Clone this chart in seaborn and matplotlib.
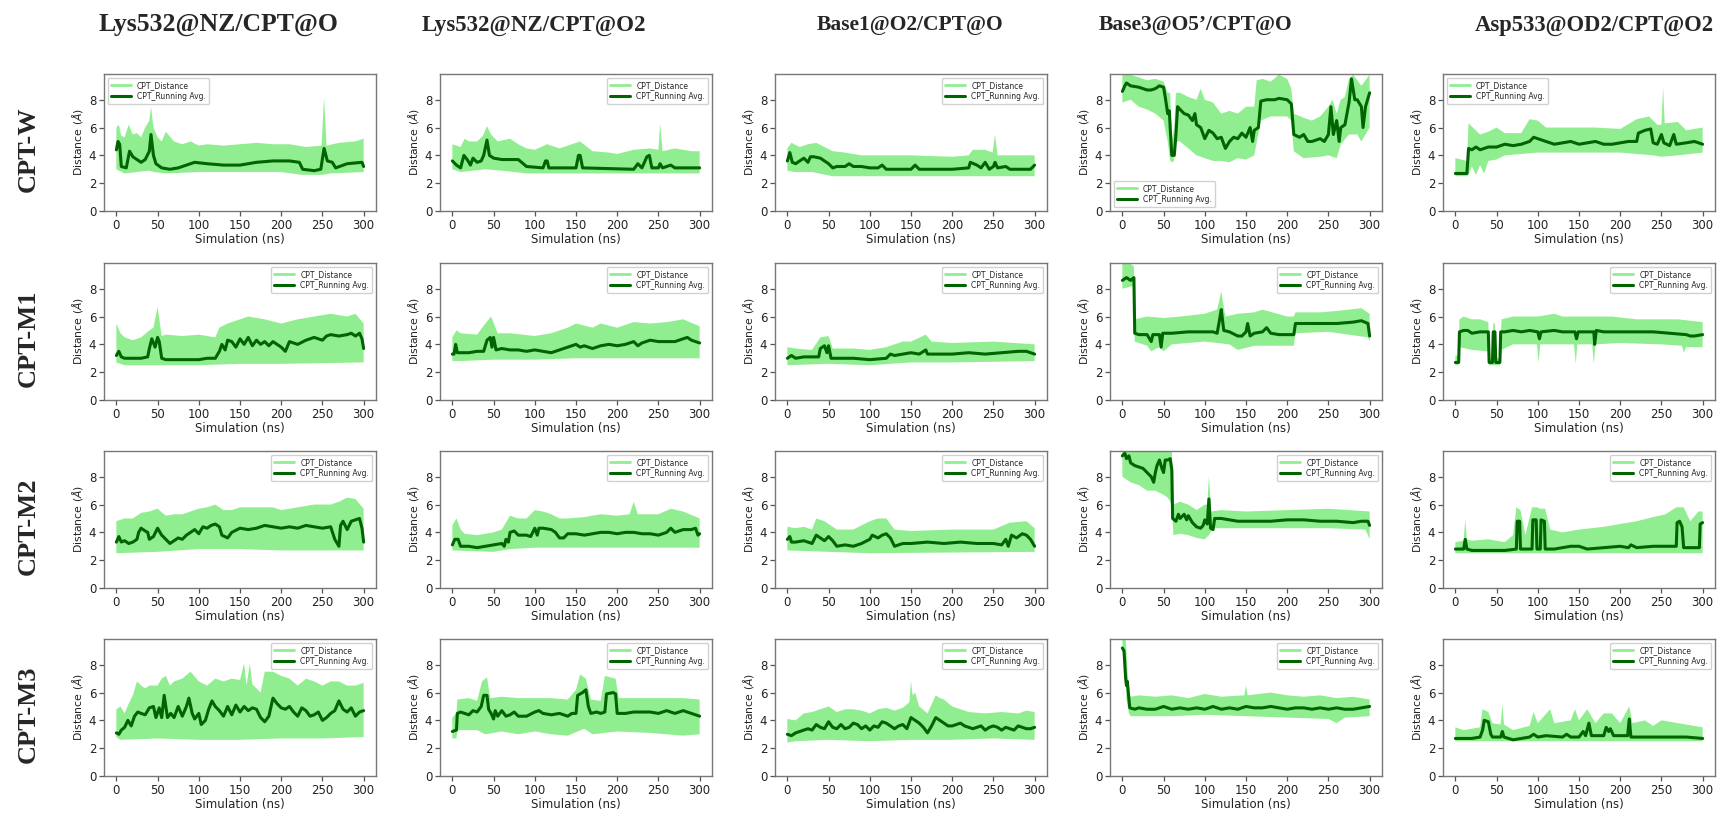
import numpy as np
import matplotlib
matplotlib.use("Agg")
import matplotlib.pyplot as plt
import seaborn as sns
from matplotlib.lines import Line2D

# --- Style ---
sns.set_style("white")
plt.rcParams["font.family"] = ["DejaVu Sans"]

# --- Data (distances in Angstrom, time in ns) ---
# each panel: running average (t, avg), upper edge of the raw distance (hi_t, hi)
# and lower edge of the raw distance (lo_t, lo)

# CPT-W
w_lys_o_t = [0, 2, 4, 6, 12, 16, 20, 25, 30, 35, 40, 42, 45, 48, 55, 65, 75, 85, 95, 110, 130, 150, 170, 190, 210, 222, 226, 240, 248, 252, 256, 262, 266, 280, 298, 300]
w_lys_o_avg = [4.4, 5.0, 4.8, 3.2, 3.1, 4.3, 3.9, 3.7, 3.5, 3.7, 4.3, 5.5, 4.0, 3.4, 3.1, 3.0, 3.1, 3.3, 3.5, 3.4, 3.3, 3.3, 3.5, 3.6, 3.6, 3.5, 3.0, 2.9, 3.0, 4.5, 3.6, 3.5, 3.1, 3.4, 3.5, 3.2]
w_lys_o_hi_t = [0, 3, 6, 10, 15, 20, 25, 30, 35, 40, 42, 45, 50, 55, 60, 70, 80, 90, 100, 110, 130, 150, 170, 190, 210, 230, 249, 252, 255, 270, 290, 300]
w_lys_o_hi = [6.0, 6.2, 5.4, 5.3, 6.2, 5.5, 5.6, 5.3, 6.0, 6.5, 7.5, 6.0, 5.3, 5.0, 5.7, 5.0, 4.8, 5.0, 4.7, 4.8, 4.7, 4.8, 4.9, 4.8, 4.8, 4.6, 4.7, 8.2, 4.7, 4.9, 5.0, 5.2]
w_lys_o_lo_t = [0, 10, 40, 45, 60, 100, 200, 225, 250, 260, 300]
w_lys_o_lo = [3.0, 2.7, 2.9, 2.8, 2.7, 2.8, 2.8, 2.6, 2.6, 2.7, 2.8]

w_lys_o2_t = [0, 5, 10, 14, 18, 22, 25, 30, 35, 38, 42, 45, 50, 60, 80, 90, 110, 113, 115, 117, 150, 153, 155, 158, 220, 225, 230, 236, 239, 242, 250, 252, 255, 265, 270, 300]
w_lys_o2_avg = [3.6, 3.3, 3.1, 4.0, 3.7, 3.3, 3.8, 3.5, 3.6, 4.0, 5.1, 4.0, 3.8, 3.7, 3.7, 3.2, 3.1, 3.6, 3.6, 3.1, 3.1, 4.0, 4.0, 3.1, 3.0, 3.4, 3.1, 3.9, 4.0, 3.1, 3.1, 3.4, 3.1, 3.3, 3.1, 3.1]
w_lys_o2_hi_t = [0, 10, 15, 20, 30, 37, 42, 47, 55, 70, 80, 90, 100, 115, 130, 155, 170, 190, 200, 220, 240, 250, 252, 255, 270, 290, 300]
w_lys_o2_hi = [4.8, 4.6, 5.2, 5.0, 5.0, 5.4, 6.1, 5.5, 5.0, 5.2, 4.8, 4.5, 4.4, 4.8, 4.5, 5.0, 4.3, 4.2, 4.1, 4.4, 4.5, 4.4, 6.3, 4.3, 4.5, 4.3, 4.3]
w_lys_o2_lo_t = [0, 10, 40, 60, 90, 300]
w_lys_o2_lo = [3.0, 2.8, 3.0, 2.9, 2.7, 2.7]

w_base1_t = [0, 3, 6, 10, 15, 20, 25, 28, 32, 40, 45, 50, 55, 60, 70, 75, 80, 90, 100, 110, 115, 120, 150, 155, 160, 200, 220, 222, 230, 235, 240, 245, 250, 252, 255, 265, 270, 295, 300]
w_base1_avg = [3.6, 4.2, 3.5, 3.4, 3.6, 3.8, 3.5, 3.9, 3.9, 3.8, 3.6, 3.4, 3.1, 3.2, 3.2, 3.4, 3.2, 3.2, 3.1, 3.1, 3.3, 3.0, 3.0, 3.3, 3.0, 3.0, 3.1, 3.5, 3.3, 3.1, 3.5, 3.0, 3.2, 3.5, 3.1, 3.2, 3.0, 3.0, 3.3]
w_base1_hi_t = [0, 5, 15, 25, 35, 45, 55, 70, 90, 110, 150, 200, 220, 225, 240, 249, 252, 255, 280, 300]
w_base1_hi = [4.5, 4.9, 4.6, 4.8, 4.9, 4.6, 4.3, 4.2, 4.0, 4.0, 4.0, 3.9, 4.0, 4.4, 4.4, 4.2, 5.5, 4.0, 4.0, 4.0]
w_base1_lo_t = [0, 10, 30, 55, 300]
w_base1_lo = [2.9, 2.8, 2.8, 2.5, 2.5]

w_base3_t = [0, 3, 5, 10, 20, 25, 30, 35, 40, 45, 50, 52, 55, 57, 58, 60, 63, 65, 67, 70, 75, 80, 85, 88, 90, 95, 100, 105, 110, 115, 120, 125, 130, 135, 140, 145, 150, 155, 158, 160, 165, 168, 175, 185, 190, 200, 205, 208, 215, 220, 225, 230, 240, 245, 250, 253, 256, 260, 263, 265, 270, 275, 278, 282, 285, 290, 292, 295, 300]
w_base3_avg = [8.6, 9.0, 9.2, 9.0, 8.9, 8.8, 8.7, 8.7, 8.8, 9.0, 8.9, 8.2, 7.0, 7.2, 6.0, 4.0, 4.0, 5.5, 7.5, 7.3, 7.0, 6.9, 6.5, 7.0, 6.2, 6.0, 5.2, 5.8, 5.6, 5.2, 5.3, 4.5, 5.0, 5.3, 5.2, 5.6, 5.3, 6.0, 5.0, 5.8, 6.0, 7.9, 8.0, 8.0, 8.1, 8.0, 7.7, 5.5, 5.3, 5.5, 5.0, 5.0, 5.2, 5.0, 5.5, 7.5, 5.5, 6.5, 5.0, 6.0, 6.2, 7.8, 9.5, 8.0, 8.0, 7.5, 6.0, 7.5, 8.5]
w_base3_hi_t = [0, 10, 20, 30, 40, 50, 55, 58, 60, 63, 65, 70, 80, 90, 95, 100, 110, 120, 130, 140, 150, 160, 163, 170, 180, 190, 200, 205, 208, 220, 230, 240, 250, 255, 260, 265, 270, 275, 280, 290, 300]
w_base3_hi = [9.8, 9.8, 9.6, 9.4, 9.5, 9.3, 8.5, 8.5, 5.0, 6.0, 8.5, 8.5, 8.2, 8.0, 8.8, 8.0, 7.8, 7.0, 7.2, 7.0, 7.5, 7.5, 9.4, 9.5, 9.3, 9.8, 9.5, 8.8, 7.0, 6.7, 6.5, 6.8, 7.5, 8.0, 7.0, 8.0, 8.2, 9.5, 9.8, 9.0, 9.8]
w_base3_lo_t = [0, 10, 20, 30, 40, 50, 55, 58, 62, 65, 70, 80, 90, 100, 110, 120, 130, 140, 150, 160, 168, 180, 200, 205, 208, 215, 220, 240, 250, 260, 265, 275, 285, 290, 300]
w_base3_lo = [7.8, 8.0, 7.5, 7.3, 7.0, 6.5, 5.0, 3.6, 3.5, 5.0, 5.0, 4.5, 4.0, 3.8, 3.6, 3.6, 3.5, 3.8, 3.7, 4.0, 6.5, 6.8, 6.8, 6.5, 4.3, 4.0, 3.8, 3.9, 4.0, 3.8, 4.8, 5.5, 5.5, 5.0, 6.0]

w_asp_t = [0, 14, 16, 20, 25, 30, 40, 50, 60, 70, 80, 90, 95, 100, 110, 120, 130, 140, 150, 160, 170, 180, 190, 200, 210, 220, 222, 230, 237, 240, 245, 250, 253, 260, 265, 268, 280, 290, 300]
w_asp_avg = [2.7, 2.7, 4.5, 4.4, 4.6, 4.4, 4.6, 4.6, 4.8, 4.7, 4.8, 5.0, 5.3, 5.2, 5.0, 4.8, 4.9, 5.0, 4.8, 4.9, 5.0, 4.8, 4.8, 4.9, 5.0, 5.0, 5.6, 5.8, 5.9, 4.9, 4.8, 5.5, 4.9, 4.7, 5.5, 4.8, 4.9, 5.0, 4.8]
w_asp_hi_t = [0, 14, 16, 30, 40, 50, 60, 80, 90, 100, 110, 130, 150, 170, 200, 220, 235, 245, 250, 252, 254, 270, 280, 290, 300]
w_asp_hi = [3.8, 3.6, 6.3, 5.5, 5.7, 6.0, 5.6, 5.6, 6.6, 6.5, 6.0, 6.0, 6.0, 6.0, 5.9, 6.6, 6.8, 6.2, 6.2, 8.9, 6.3, 6.4, 5.8, 5.9, 6.0]
w_asp_lo_t = [0, 14, 16, 20, 25, 30, 35, 40, 50, 60, 80, 100, 150, 200, 240, 250, 270, 300]
w_asp_lo = [2.5, 2.5, 2.6, 3.2, 2.6, 3.3, 2.7, 3.6, 3.7, 4.0, 4.1, 4.2, 4.2, 4.2, 4.0, 3.9, 4.0, 4.2]

# CPT-M1
m1_lys_o_t = [0, 3, 6, 10, 20, 30, 38, 40, 43, 47, 50, 52, 55, 60, 80, 100, 110, 120, 125, 128, 132, 135, 140, 145, 150, 155, 160, 165, 170, 175, 180, 185, 190, 200, 205, 210, 220, 230, 240, 250, 255, 260, 270, 280, 285, 290, 295, 298, 300]
m1_lys_o_avg = [3.2, 3.5, 3.1, 3.0, 3.0, 3.0, 3.1, 3.7, 4.4, 3.8, 4.5, 4.2, 3.0, 2.9, 2.9, 2.9, 3.0, 3.0, 3.5, 4.0, 3.6, 4.3, 4.2, 3.8, 4.4, 4.0, 4.5, 3.9, 4.3, 4.0, 4.2, 3.9, 4.2, 3.8, 3.5, 4.2, 4.0, 4.3, 4.5, 4.3, 4.6, 4.7, 4.6, 4.7, 4.8, 4.6, 4.8, 4.4, 3.7]
m1_lys_o_hi_t = [0, 5, 10, 20, 30, 40, 45, 50, 55, 60, 80, 100, 120, 125, 135, 150, 160, 180, 200, 220, 240, 260, 280, 290, 300]
m1_lys_o_hi = [5.5, 4.8, 4.5, 4.3, 4.5, 5.0, 5.2, 6.7, 4.6, 4.7, 4.6, 4.7, 4.5, 5.2, 5.5, 5.8, 6.0, 5.8, 5.5, 5.8, 6.0, 6.2, 6.0, 6.2, 5.5]
m1_lys_o_lo_t = [0, 10, 100, 150, 200, 300]
m1_lys_o_lo = [2.7, 2.5, 2.5, 2.6, 2.6, 2.7]

m1_lys_o2_t = [0, 2, 4, 6, 10, 20, 30, 38, 42, 46, 48, 50, 53, 60, 70, 80, 90, 100, 110, 120, 125, 130, 140, 150, 155, 160, 170, 180, 190, 200, 210, 220, 225, 230, 240, 250, 260, 270, 280, 285, 290, 295, 300]
m1_lys_o2_avg = [3.3, 3.3, 4.0, 3.4, 3.4, 3.4, 3.5, 3.5, 4.3, 4.5, 3.8, 4.5, 3.6, 3.7, 3.6, 3.6, 3.5, 3.6, 3.5, 3.4, 3.5, 3.6, 3.8, 4.0, 3.8, 3.9, 3.7, 3.9, 4.0, 3.9, 4.0, 4.2, 3.9, 4.1, 4.3, 4.2, 4.2, 4.2, 4.4, 4.5, 4.3, 4.2, 4.1]
m1_lys_o2_hi_t = [0, 5, 10, 30, 40, 47, 55, 70, 100, 120, 140, 150, 170, 180, 200, 220, 240, 260, 280, 300]
m1_lys_o2_hi = [4.5, 5.0, 4.8, 4.7, 5.5, 6.0, 4.8, 4.8, 4.6, 4.8, 5.2, 5.5, 5.2, 5.5, 5.2, 5.6, 5.5, 5.6, 5.8, 5.3]
m1_lys_o2_lo_t = [0, 10, 50, 100, 150, 300]
m1_lys_o2_lo = [2.8, 2.8, 2.9, 2.9, 3.0, 3.0]

m1_base1_t = [0, 5, 10, 20, 30, 38, 40, 45, 48, 50, 53, 60, 80, 100, 120, 125, 130, 140, 150, 160, 168, 170, 180, 200, 220, 240, 260, 280, 290, 300]
m1_base1_avg = [3.0, 3.2, 3.0, 3.1, 3.1, 3.1, 3.7, 3.9, 3.4, 3.9, 3.0, 3.0, 3.0, 2.9, 3.0, 3.3, 3.2, 3.3, 3.4, 3.3, 3.6, 3.3, 3.3, 3.3, 3.4, 3.3, 3.4, 3.5, 3.5, 3.3]
m1_base1_hi_t = [0, 10, 30, 40, 50, 55, 80, 100, 120, 140, 150, 168, 175, 200, 250, 300]
m1_base1_hi = [3.8, 3.7, 3.6, 4.5, 4.6, 3.7, 3.7, 3.6, 3.8, 4.2, 4.2, 4.7, 4.2, 4.1, 4.2, 4.0]
m1_base1_lo_t = [0, 50, 100, 150, 200, 300]
m1_base1_lo = [2.5, 2.6, 2.5, 2.7, 2.7, 2.8]

m1_base3_t = [0, 5, 10, 14, 15, 20, 30, 35, 37, 45, 47, 49, 60, 80, 100, 110, 115, 118, 120, 123, 130, 140, 145, 150, 152, 155, 160, 170, 175, 180, 190, 200, 208, 210, 220, 240, 260, 280, 290, 298, 300]
m1_base3_avg = [8.6, 8.8, 8.6, 8.8, 4.8, 4.7, 4.7, 4.2, 4.7, 4.7, 3.8, 4.8, 4.8, 4.9, 4.9, 4.9, 4.8, 5.8, 6.5, 5.0, 4.9, 4.6, 4.6, 4.9, 5.5, 4.6, 4.8, 4.9, 5.2, 4.8, 4.7, 4.7, 4.7, 5.5, 5.5, 5.5, 5.5, 5.6, 5.7, 5.5, 4.6]
m1_base3_hi_t = [0, 10, 14, 15, 30, 50, 70, 100, 115, 120, 125, 140, 160, 170, 200, 208, 210, 240, 260, 290, 300]
m1_base3_hi = [9.8, 9.8, 9.6, 5.8, 6.0, 5.9, 6.0, 6.2, 6.5, 7.8, 6.0, 6.2, 6.3, 6.5, 6.0, 6.0, 6.3, 6.3, 6.4, 6.6, 6.2]
m1_base3_lo_t = [0, 13, 15, 30, 35, 45, 50, 60, 100, 130, 140, 160, 200, 208, 210, 250, 298, 300]
m1_base3_lo = [8.0, 8.2, 4.2, 3.9, 3.5, 3.8, 3.5, 4.0, 4.2, 4.0, 3.6, 3.9, 3.9, 3.9, 4.8, 4.9, 4.5, 4.2]

m1_asp_t = [0, 4, 5, 10, 15, 20, 30, 40, 41, 45, 46, 48, 49, 54, 55, 60, 70, 80, 90, 100, 102, 104, 120, 130, 145, 147, 149, 160, 168, 169, 171, 180, 200, 220, 240, 260, 280, 285, 290, 300]
m1_asp_avg = [2.7, 2.7, 4.9, 5.0, 5.0, 4.8, 4.9, 4.9, 2.7, 2.7, 4.9, 4.9, 2.7, 2.7, 4.9, 4.9, 5.0, 4.9, 5.0, 4.9, 4.4, 4.9, 5.0, 4.9, 4.9, 4.4, 4.9, 4.9, 4.9, 4.0, 5.0, 4.9, 4.9, 4.9, 4.9, 4.8, 4.7, 4.6, 4.6, 4.7]
m1_asp_hi_t = [0, 4, 5, 10, 20, 30, 40, 41, 45, 46, 48, 49, 54, 56, 70, 100, 120, 130, 160, 190, 220, 250, 270, 300]
m1_asp_hi = [3.2, 3.2, 5.8, 6.0, 5.8, 5.8, 5.6, 3.0, 3.0, 5.5, 5.5, 3.0, 3.0, 5.8, 6.0, 6.0, 6.2, 6.0, 6.0, 6.0, 5.8, 5.8, 5.8, 5.6]
m1_asp_lo_t = [0, 4, 5, 20, 40, 41, 54, 56, 70, 99, 101, 103, 144, 146, 148, 166, 168, 170, 200, 250, 275, 277, 280, 300]
m1_asp_lo = [2.5, 2.5, 3.8, 3.6, 3.5, 2.5, 2.5, 3.6, 4.0, 4.0, 2.7, 4.0, 4.0, 2.6, 4.0, 4.0, 2.6, 4.0, 4.1, 4.0, 3.9, 3.4, 3.8, 3.8]

# CPT-M2
m2_lys_o_t = [0, 3, 6, 10, 15, 20, 25, 27, 30, 35, 38, 40, 45, 50, 55, 60, 65, 70, 75, 80, 85, 90, 95, 100, 105, 110, 115, 120, 125, 128, 135, 140, 150, 160, 170, 180, 190, 200, 210, 220, 230, 240, 250, 260, 265, 270, 272, 275, 280, 285, 290, 295, 298, 300]
m2_lys_o_avg = [3.3, 3.7, 3.3, 3.4, 3.2, 3.3, 3.5, 4.0, 4.3, 4.1, 4.0, 3.5, 3.7, 4.3, 3.8, 3.5, 3.2, 3.4, 3.6, 3.5, 3.8, 4.0, 4.2, 3.9, 4.4, 4.3, 4.5, 4.6, 4.4, 3.8, 3.6, 4.0, 4.3, 4.2, 4.3, 4.5, 4.4, 4.3, 4.4, 4.3, 4.5, 4.4, 4.3, 4.4, 3.5, 3.0, 4.5, 4.8, 4.2, 4.8, 4.9, 5.0, 4.3, 3.3]
m2_lys_o_hi_t = [0, 10, 20, 30, 40, 50, 60, 70, 80, 90, 100, 110, 120, 130, 140, 150, 170, 190, 200, 220, 240, 260, 270, 280, 290, 300]
m2_lys_o_hi = [4.8, 5.0, 5.0, 5.4, 5.5, 5.7, 5.2, 5.3, 5.3, 5.5, 5.7, 5.8, 6.0, 5.6, 5.6, 5.8, 5.8, 5.8, 5.6, 5.8, 6.0, 6.0, 6.2, 6.5, 6.4, 5.7]
m2_lys_o_lo_t = [0, 50, 100, 150, 200, 250, 300]
m2_lys_o_lo = [2.5, 2.6, 2.8, 2.8, 2.7, 2.7, 2.7]

m2_lys_o2_t = [0, 3, 7, 10, 20, 30, 40, 50, 60, 63, 65, 68, 70, 75, 80, 90, 95, 100, 103, 105, 110, 120, 125, 130, 135, 140, 150, 160, 170, 180, 190, 200, 210, 220, 230, 240, 250, 260, 265, 270, 280, 290, 295, 298, 300]
m2_lys_o2_avg = [3.1, 3.5, 3.5, 3.0, 3.0, 2.9, 3.0, 3.1, 3.2, 3.0, 3.5, 3.3, 4.0, 4.1, 3.8, 3.8, 3.7, 4.3, 3.8, 4.3, 4.3, 4.2, 4.0, 3.6, 3.6, 3.9, 3.9, 3.8, 3.9, 4.0, 4.0, 3.9, 4.0, 4.0, 3.9, 3.9, 3.8, 4.0, 4.3, 4.0, 4.2, 4.2, 4.3, 3.8, 3.9]
m2_lys_o2_hi_t = [0, 5, 10, 15, 30, 50, 60, 70, 80, 90, 100, 110, 120, 130, 140, 160, 180, 200, 215, 220, 225, 250, 265, 280, 300]
m2_lys_o2_hi = [4.5, 5.0, 4.2, 3.9, 3.8, 4.0, 4.2, 5.2, 5.0, 5.0, 5.6, 5.5, 5.3, 5.0, 5.0, 5.1, 5.3, 5.2, 5.3, 6.2, 5.3, 5.3, 5.7, 5.5, 5.0]
m2_lys_o2_lo_t = [0, 50, 70, 100, 300]
m2_lys_o2_lo = [2.7, 2.6, 2.8, 2.9, 2.9]

m2_base1_t = [0, 3, 5, 10, 20, 30, 35, 40, 45, 50, 55, 60, 70, 80, 90, 100, 103, 110, 115, 120, 125, 130, 140, 150, 170, 190, 210, 230, 250, 260, 265, 268, 272, 278, 285, 290, 295, 300]
m2_base1_avg = [3.5, 3.7, 3.3, 3.3, 3.4, 3.2, 3.8, 3.6, 3.4, 3.7, 3.4, 3.0, 3.1, 3.0, 3.2, 3.5, 3.8, 3.6, 3.8, 3.9, 3.6, 3.0, 3.2, 3.2, 3.3, 3.2, 3.3, 3.2, 3.2, 3.1, 3.5, 3.0, 3.8, 3.6, 3.9, 3.8, 3.5, 3.0]
m2_base1_hi_t = [0, 10, 20, 30, 35, 45, 60, 80, 100, 110, 120, 130, 150, 200, 250, 270, 290, 300]
m2_base1_hi = [4.4, 4.3, 4.4, 4.2, 5.0, 4.8, 4.2, 4.2, 4.8, 5.0, 5.0, 4.2, 4.1, 4.2, 4.2, 4.7, 4.8, 4.3]
m2_base1_lo_t = [0, 50, 100, 300]
m2_base1_lo = [2.7, 2.6, 2.5, 2.6]

m2_base3_t = [0, 3, 5, 8, 10, 15, 20, 25, 30, 35, 38, 40, 42, 45, 48, 50, 52, 55, 58, 60, 61, 65, 68, 70, 75, 78, 80, 85, 90, 95, 98, 100, 103, 105, 107, 110, 112, 120, 140, 160, 180, 200, 220, 240, 260, 280, 290, 298, 300]
m2_base3_avg = [9.5, 9.7, 9.3, 9.5, 9.0, 8.8, 8.7, 8.6, 8.3, 8.0, 7.6, 8.3, 8.8, 9.2, 8.6, 8.3, 9.2, 9.2, 9.3, 8.5, 5.0, 4.8, 5.3, 5.0, 5.3, 4.9, 5.2, 4.7, 4.4, 4.3, 4.5, 4.9, 4.6, 6.4, 4.3, 4.2, 5.0, 5.0, 4.8, 4.8, 4.8, 4.9, 4.9, 4.8, 4.8, 4.7, 4.8, 4.8, 4.5]
m2_base3_hi_t = [0, 60, 62, 70, 80, 90, 100, 103, 105, 108, 120, 150, 200, 250, 300]
m2_base3_hi = [9.9, 9.9, 6.0, 6.2, 6.0, 5.6, 6.0, 6.0, 8.0, 5.5, 5.6, 5.5, 5.6, 5.7, 5.5]
m2_base3_lo_t = [0, 10, 20, 30, 40, 50, 55, 60, 62, 70, 80, 90, 100, 105, 110, 150, 200, 250, 295, 300]
m2_base3_lo = [8.0, 7.6, 7.4, 7.0, 7.0, 6.7, 6.5, 6.0, 3.8, 3.9, 3.8, 3.6, 3.5, 3.8, 4.3, 4.3, 4.3, 4.3, 4.2, 3.5]

m2_asp_t = [0, 10, 12, 14, 20, 40, 60, 74, 75, 78, 79, 93, 94, 98, 99, 103, 104, 108, 109, 120, 140, 150, 160, 180, 200, 210, 213, 220, 240, 260, 268, 269, 272, 275, 277, 296, 297, 300]
m2_asp_avg = [2.8, 2.8, 3.5, 2.8, 2.7, 2.7, 2.7, 2.8, 4.8, 4.8, 2.8, 2.8, 4.9, 4.9, 2.8, 2.8, 4.9, 4.8, 2.8, 2.8, 3.0, 3.0, 2.8, 2.9, 3.0, 2.9, 3.1, 2.9, 3.0, 3.0, 3.0, 4.7, 4.8, 4.4, 2.9, 2.9, 4.6, 4.7]
m2_asp_hi_t = [0, 10, 12, 14, 20, 40, 60, 70, 74, 79, 85, 93, 99, 103, 109, 115, 130, 150, 180, 200, 220, 240, 255, 268, 277, 285, 295, 300]
m2_asp_hi = [3.3, 3.4, 4.9, 3.5, 3.4, 3.5, 3.3, 3.8, 5.8, 5.6, 3.8, 5.8, 5.8, 5.7, 5.7, 4.2, 4.0, 4.2, 4.4, 4.6, 4.8, 5.1, 5.3, 5.8, 5.8, 4.8, 5.5, 5.5]
m2_asp_lo_t = [0, 150, 300]
m2_asp_lo = [2.5, 2.5, 2.5]

# CPT-M3
m3_lys_o_t = [0, 3, 6, 10, 14, 18, 22, 26, 30, 35, 40, 45, 48, 52, 55, 58, 62, 66, 70, 75, 80, 85, 88, 92, 95, 100, 103, 108, 112, 116, 120, 125, 130, 135, 140, 145, 150, 155, 160, 165, 170, 175, 180, 185, 190, 195, 200, 205, 210, 215, 220, 225, 230, 235, 240, 245, 250, 255, 260, 265, 270, 275, 280, 285, 290, 295, 300]
m3_lys_o_avg = [3.1, 3.0, 3.3, 3.5, 4.0, 3.6, 4.3, 4.6, 4.5, 4.4, 4.9, 5.0, 4.2, 4.9, 4.2, 5.8, 4.2, 4.5, 4.2, 5.0, 4.3, 5.0, 5.6, 4.5, 4.1, 4.5, 3.7, 4.0, 4.8, 5.4, 5.0, 4.7, 4.3, 5.0, 4.4, 5.1, 4.6, 5.0, 4.7, 4.9, 4.8, 4.2, 3.9, 4.3, 5.6, 5.2, 4.9, 4.8, 5.0, 4.6, 4.3, 4.9, 4.7, 4.3, 4.4, 4.6, 4.0, 4.2, 4.5, 4.7, 5.4, 4.8, 4.6, 4.9, 4.3, 4.6, 4.7]
m3_lys_o_hi_t = [0, 5, 10, 15, 20, 25, 30, 35, 40, 50, 55, 60, 65, 70, 80, 90, 100, 110, 120, 130, 140, 150, 155, 158, 162, 165, 175, 180, 190, 200, 210, 220, 230, 240, 250, 260, 270, 280, 290, 300]
m3_lys_o_hi = [4.8, 5.0, 4.5, 5.2, 5.8, 6.8, 6.5, 6.3, 6.5, 6.5, 7.0, 7.2, 6.5, 6.8, 7.0, 7.5, 6.8, 6.5, 7.0, 6.8, 7.0, 6.9, 8.1, 6.5, 8.1, 6.6, 6.0, 7.5, 7.5, 7.2, 7.0, 6.5, 7.0, 6.8, 6.5, 6.8, 6.8, 6.5, 6.5, 6.7]
m3_lys_o_lo_t = [0, 5, 50, 100, 150, 200, 250, 300]
m3_lys_o_lo = [2.8, 2.6, 2.7, 2.6, 2.6, 2.7, 2.7, 2.8]

m3_lys_o2_t = [0, 5, 6, 10, 15, 20, 25, 30, 35, 38, 42, 44, 47, 50, 52, 55, 60, 65, 70, 75, 80, 90, 100, 105, 110, 120, 130, 140, 145, 150, 152, 158, 162, 165, 168, 175, 180, 185, 187, 195, 198, 200, 210, 220, 230, 240, 250, 260, 270, 275, 280, 290, 295, 300]
m3_lys_o2_avg = [3.2, 3.3, 4.5, 4.6, 4.5, 4.4, 4.7, 4.6, 5.0, 5.8, 5.8, 4.8, 4.5, 4.1, 4.7, 4.3, 4.7, 4.3, 4.4, 4.6, 4.3, 4.3, 4.6, 4.7, 4.5, 4.4, 4.5, 4.3, 4.5, 4.5, 5.8, 6.0, 6.2, 5.0, 4.5, 4.6, 4.5, 4.6, 5.9, 6.0, 5.9, 4.5, 4.5, 4.6, 4.6, 4.6, 4.5, 4.7, 4.5, 4.6, 4.7, 4.5, 4.4, 4.3]
m3_lys_o2_hi_t = [0, 5, 6, 20, 30, 36, 42, 46, 60, 80, 100, 120, 140, 150, 155, 162, 168, 180, 185, 198, 202, 220, 240, 260, 280, 300]
m3_lys_o2_hi = [4.2, 4.5, 5.5, 5.6, 5.4, 6.8, 7.1, 5.6, 5.7, 5.6, 5.6, 5.6, 5.5, 6.2, 7.3, 7.0, 5.5, 5.4, 7.2, 7.0, 5.6, 5.6, 5.6, 5.6, 5.6, 5.5]
m3_lys_o2_lo_t = [0, 5, 6, 30, 40, 60, 80, 100, 120, 140, 160, 170, 200, 240, 280, 300]
m3_lys_o2_lo = [2.7, 2.7, 3.3, 3.3, 3.0, 3.2, 3.0, 3.2, 3.0, 2.9, 3.4, 3.0, 3.2, 3.1, 2.9, 3.0]

m3_base1_t = [0, 5, 10, 15, 20, 25, 30, 35, 40, 45, 50, 55, 60, 65, 70, 75, 80, 85, 90, 95, 100, 105, 110, 115, 120, 125, 130, 135, 140, 145, 150, 155, 160, 165, 170, 175, 180, 185, 190, 195, 200, 205, 210, 215, 220, 225, 230, 235, 240, 245, 250, 255, 260, 265, 270, 275, 280, 285, 290, 295, 300]
m3_base1_avg = [3.0, 2.9, 3.1, 3.2, 3.3, 3.4, 3.3, 3.7, 3.5, 3.4, 3.9, 3.5, 3.4, 3.7, 3.4, 3.5, 3.8, 3.7, 3.4, 3.6, 3.3, 3.6, 3.5, 3.9, 3.8, 3.6, 3.4, 3.6, 3.7, 3.4, 4.2, 4.0, 3.8, 3.5, 3.1, 3.6, 4.2, 4.0, 3.8, 3.6, 3.6, 3.7, 3.8, 3.6, 3.5, 3.4, 3.5, 3.6, 3.3, 3.5, 3.6, 3.5, 3.3, 3.5, 3.4, 3.3, 3.6, 3.5, 3.4, 3.4, 3.5]
m3_base1_hi_t = [0, 10, 20, 30, 40, 50, 60, 70, 80, 90, 100, 110, 120, 130, 140, 148, 150, 152, 155, 160, 170, 180, 185, 190, 200, 210, 220, 240, 260, 280, 290, 300]
m3_base1_hi = [4.1, 4.0, 4.5, 4.6, 4.8, 5.0, 4.6, 4.8, 4.8, 4.7, 4.5, 4.8, 4.9, 4.7, 4.9, 5.3, 6.8, 5.8, 6.0, 5.0, 4.5, 5.8, 5.6, 5.5, 5.0, 4.8, 4.6, 4.5, 4.6, 4.5, 4.7, 4.6]
m3_base1_lo_t = [0, 10, 50, 100, 150, 200, 250, 300]
m3_base1_lo = [2.4, 2.5, 2.6, 2.5, 2.6, 2.6, 2.7, 2.6]

m3_base3_t = [0, 2, 4, 5, 6, 8, 9, 15, 20, 30, 40, 50, 60, 70, 80, 90, 100, 110, 120, 130, 140, 150, 160, 170, 180, 190, 200, 210, 220, 230, 240, 250, 260, 270, 280, 290, 300]
m3_base3_avg = [9.2, 9.0, 7.0, 6.5, 6.8, 5.5, 4.9, 4.8, 4.9, 4.8, 4.8, 5.0, 4.8, 4.9, 4.8, 4.9, 4.8, 5.0, 4.8, 4.9, 4.8, 5.0, 4.9, 4.9, 5.0, 4.9, 4.8, 4.9, 4.9, 4.8, 4.9, 4.8, 4.9, 4.8, 4.8, 4.9, 5.0]
m3_base3_hi_t = [0, 4, 6, 8, 10, 20, 40, 60, 80, 100, 120, 148, 150, 152, 180, 200, 220, 240, 260, 280, 300]
m3_base3_hi = [9.9, 9.9, 7.8, 6.0, 5.7, 5.8, 5.7, 5.8, 5.6, 5.9, 5.7, 5.8, 6.5, 5.8, 6.0, 5.8, 5.7, 5.8, 5.6, 5.7, 5.5]
m3_base3_lo_t = [0, 3, 5, 8, 10, 30, 60, 100, 150, 200, 250, 260, 270, 300]
m3_base3_lo = [9.0, 8.5, 5.5, 4.5, 4.3, 4.3, 4.3, 4.4, 4.3, 4.2, 4.1, 3.8, 4.2, 4.3]

m3_asp_t = [0, 10, 20, 30, 33, 35, 40, 43, 45, 55, 57, 59, 70, 80, 90, 95, 100, 110, 130, 135, 140, 150, 155, 158, 162, 165, 180, 183, 186, 188, 192, 209, 211, 213, 230, 260, 280, 300]
m3_asp_avg = [2.7, 2.7, 2.7, 2.8, 3.3, 4.0, 3.9, 3.0, 2.8, 2.8, 3.2, 2.8, 2.6, 2.7, 2.8, 3.0, 2.8, 2.9, 2.8, 3.0, 2.8, 2.8, 3.2, 2.9, 3.8, 2.9, 2.9, 3.5, 3.2, 3.4, 2.9, 2.9, 4.1, 2.8, 2.8, 2.8, 2.8, 2.7]
m3_asp_hi_t = [0, 10, 30, 33, 40, 45, 55, 57, 59, 70, 90, 95, 100, 115, 120, 140, 145, 150, 160, 170, 180, 190, 200, 211, 215, 230, 240, 250, 270, 300]
m3_asp_hi = [3.5, 3.3, 3.5, 4.8, 4.6, 3.8, 3.7, 5.2, 3.7, 3.3, 3.6, 4.6, 3.8, 4.8, 3.8, 4.0, 4.8, 4.0, 4.8, 3.8, 4.5, 4.5, 3.8, 5.0, 3.8, 4.0, 3.6, 4.0, 3.8, 3.5]
m3_asp_lo_t = [0, 150, 300]
m3_asp_lo = [2.5, 2.5, 2.5]

# --- Panel labels ---
rows = ["w", "m1", "m2", "m3"]
row_labels = ["CPT-W", "CPT-M1", "CPT-M2", "CPT-M3"]
cols = ["lys_o", "lys_o2", "base1", "base3", "asp"]
col_titles = ["Lys532@NZ/CPT@O", "Lys532@NZ/CPT@O2", "Base1@O2/CPT@O",
              "Base3@O5\u2019/CPT@O", "Asp533@OD2/CPT@O2"]
legend_locs = [["upper left", "upper right", "upper right", "lower left", "upper left"]] + \
              [["upper right"] * 5] * 3

LIGHT = "#90EE90"
DARK = "#006400"

# --- Layout (pixels of a 1719 x 817 canvas) ---
W, H = 1719, 817
col_left = [104, 440, 775, 1110, 1443]
row_top = [74, 263, 451, 639]
ax_w, ax_h = 272, 137
title_x = [218, 534, 910, 1195, 1594]
title_size = [18.5, 16.5, 15.5, 15.5, 16.3]

fig = plt.figure(figsize=(W / 100, H / 100), dpi=100)

for i, r in enumerate(rows):
    for j, c in enumerate(cols):
        key = f"{r}_{c}"
        t = globals()[key + "_t"]
        avg = globals()[key + "_avg"]
        hi_t, hi = globals()[key + "_hi_t"], globals()[key + "_hi"]
        lo_t, lo = globals()[key + "_lo_t"], globals()[key + "_lo"]

        ax = fig.add_axes([col_left[j] / W, 1 - (row_top[i] + ax_h) / H, ax_w / W, ax_h / H])

        # raw distance envelope
        ax.fill(np.r_[hi_t, lo_t[::-1]], np.r_[hi, lo[::-1]], color=LIGHT, lw=0)
        # running average
        sns.lineplot(x=t, y=avg, color=DARK, lw=2.2, ax=ax)

        ax.set_xlim(-15, 315)
        ax.set_ylim(0, 9.85)
        ax.set_xticks(range(0, 301, 50))
        ax.set_yticks(range(0, 9, 2))
        ax.set_xlabel("Simulation (ns)", fontsize=8.5, color="#222222", labelpad=1)
        ax.set_ylabel("Distance ($\\AA$)", fontsize=7.8, color="#222222", labelpad=3)
        ax.tick_params(axis="both", labelsize=8.5, labelcolor="#222222", color="#555555",
                       length=3.5, width=0.9, direction="out", bottom=True, left=True, pad=2)
        for sp in ax.spines.values():
            sp.set_color("#777777")
            sp.set_linewidth(1.0)

        handles = [Line2D([], [], color=LIGHT, lw=2.0), Line2D([], [], color=DARK, lw=2.2)]
        ax.legend(handles, ["CPT_Distance", "CPT_Running Avg."], loc=legend_locs[i][j],
                  fontsize=5.5, frameon=True, edgecolor="#cccccc", framealpha=0.9,
                  handlelength=2.6, borderpad=0.4, labelspacing=0.3)

# --- Column titles and row labels ---
for j, title in enumerate(col_titles):
    fig.text(title_x[j] / W, 1 - 25 / H, title, ha="center", va="center",
             fontsize=title_size[j], fontweight="bold", family="Liberation Serif")

for i, lab in enumerate(row_labels):
    fig.text(28 / W, 1 - (row_top[i] + ax_h / 2 + 7) / H, lab, ha="center", va="center",
             rotation=90, fontsize=19, fontweight="bold", family="Liberation Serif")

fig.savefig("out.png", dpi=100)
